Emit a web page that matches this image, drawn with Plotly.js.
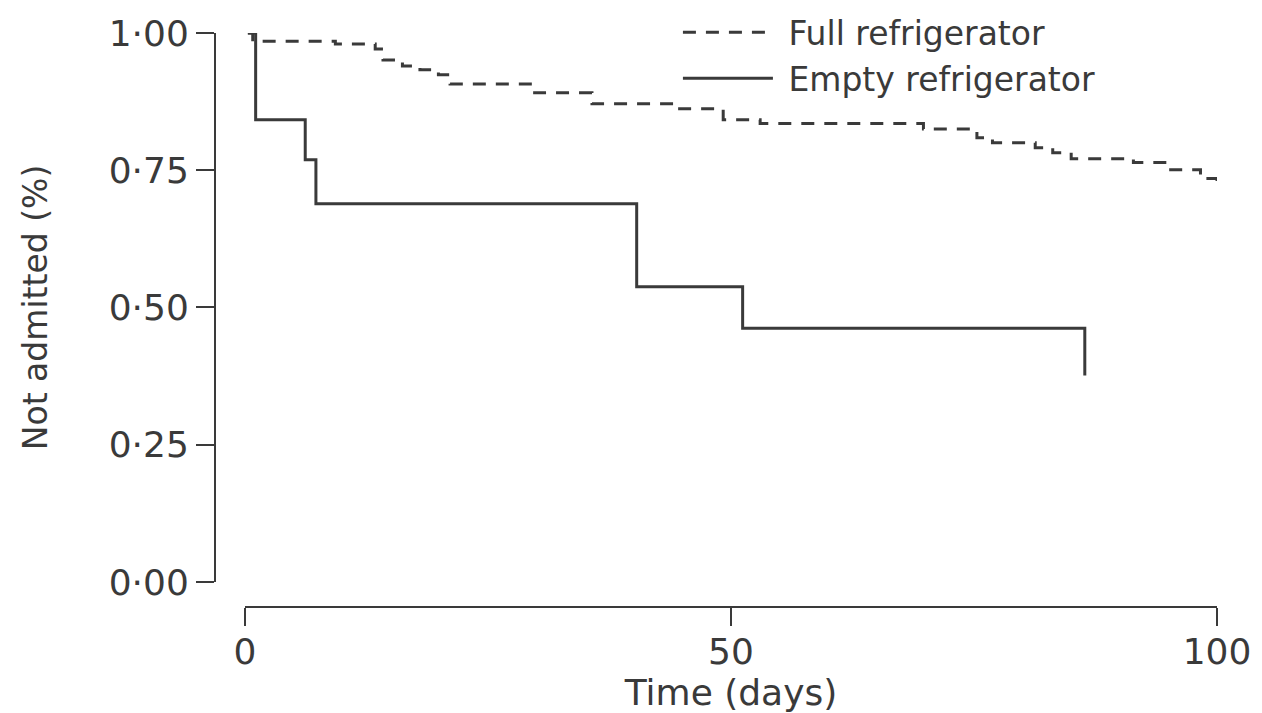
<!DOCTYPE html>
<html>
<head>
<meta charset="utf-8">
<script src="https://cdn.plot.ly/plotly-3.0.1.min.js"></script>
<style>html,body{margin:0;padding:0;background:#fff;}#chart{width:1262px;height:713px;}</style>
</head>
<body>
<div id="chart"></div>
<script>
// Full refrigerator (dashed) – step survival curve
const fullDays = [0.3, 0.8, 9.3, 13.4, 14.2, 16.2, 18.0, 19.9, 21.1, 29.8, 35.7, 44.2, 49.2, 53.0, 69.8, 75.3, 76.9, 81.3, 83.1, 85.0, 91.4, 95.0, 98.3, 100.0];
const fullSurv = [1.0, 0.985, 0.980, 0.971, 0.951, 0.940, 0.933, 0.924, 0.907, 0.891, 0.871, 0.862, 0.842, 0.835, 0.825, 0.809, 0.800, 0.791, 0.782, 0.771, 0.764, 0.751, 0.735, 0.725];
// Empty refrigerator (solid)
const emptyDays = [0.3, 1.1, 6.2, 7.3, 40.3, 51.2, 86.4];
const emptySurv = [1.0, 0.842, 0.769, 0.689, 0.538, 0.462, 0.376];

const yTickVals = [0, 0.25, 0.5, 0.75, 1.0];
const yTickText = ['0·00', '0·25', '0·50', '0·75', '1·00'];
const xTickVals = [0, 50, 100];
const xTickText = ['0', '50', '100'];

const ink = '#3a3a3a';
const font = 'DejaVu Sans, sans-serif';

const traces = [
  {x: fullDays, y: fullSurv, name: '\u00a0Full refrigerator', mode: 'lines',
   line: {shape: 'hv', color: ink, width: 3, dash: '13px,10px'}},
  {x: emptyDays, y: emptySurv, name: '\u00a0Empty refrigerator', mode: 'lines',
   line: {shape: 'hv', color: ink, width: 3}}
];

const layout = {
  width: 1262, height: 713,
  margin: {l: 215, r: 45, t: 33, b: 106, autoexpand: false},
  paper_bgcolor: '#fff', plot_bgcolor: '#fff',
  font: {family: font, color: ink},
  showlegend: true,
  legend: {x: 0.462, xanchor: 'left', y: 1.05, yanchor: 'top',
           font: {size: 33, color: ink}, itemwidth: 90, bgcolor: 'rgba(0,0,0,0)',
           tracegroupgap: 0},
  xaxis: {
    domain: [0.0299, 1], range: [0, 100], anchor: 'free', position: 0,
    showgrid: false, zeroline: false, showline: true, linecolor: ink, linewidth: 2,
    ticks: 'outside', ticklen: 18, tickwidth: 2, tickcolor: ink,
    tickvals: xTickVals, ticktext: xTickText,
    tickfont: {size: 36, color: ink}, ticklabelstandoff: -5,
    title: {text: 'Time (days)', font: {size: 36, color: ink}, standoff: 0}
  },
  yaxis: {
    domain: [0.0436, 1], range: [0, 1], anchor: 'free', position: 0,
    showgrid: false, zeroline: false, showline: true, linecolor: ink, linewidth: 2,
    ticks: 'outside', ticklen: 18, tickwidth: 2, tickcolor: ink,
    tickvals: yTickVals, ticktext: yTickText,
    tickfont: {size: 36, color: ink},
    title: {text: 'Not admitted (%)', font: {size: 33, color: ink}, standoff: 50}
  }
};

Plotly.newPlot('chart', traces, layout, {displayModeBar: false, staticPlot: true});
</script>
</body>
</html>
